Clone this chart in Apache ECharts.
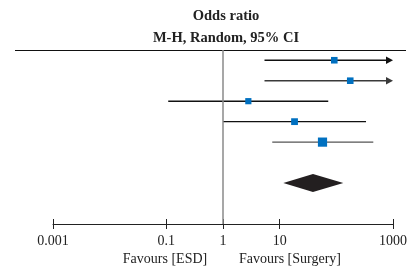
<!DOCTYPE html>
<html>
<head>
<meta charset="utf-8">
<script src="https://cdn.jsdelivr.net/npm/echarts@6/dist/echarts.min.js"></script>
<style>
html, body { margin: 0; padding: 0; background: #fff; }
#chart { width: 409px; height: 271px; }
</style>
</head>
<body>
<div id="chart"></div>
<script>
// study rows, top to bottom
const studyRows = [0, 1, 2, 3, 4];
const oddsRatio = [92, 176, 2.8, 18.3, 57];
const ciLower = [5.4, 5.4, 0.108, 1.0, 7.4];
const ciUpper = [1000, 1000, 72, 334, 449];
const ciBeyond = [1, 1, 0, 0, 0]; // CI runs past the axis -> arrow
const weights = [17, 17, 15, 18, 33];
// pooled estimate (diamond)
const pooledRow = 6;
const pooledLower = 11.6;
const pooledOR = 38.7;
const pooledUpper = 132.7;
// axis
const tickValues = [0.001, 0.1, 1, 10, 1000];
const tickLabels = ["0.001", "0.1", "1", "10", "1000"];

const serif = '"Liberation Serif", "DejaVu Serif", serif';
const lineColors = ["#111", "#3a3a3a", "#111", "#111", "#555"];

const mychart = echarts.init(document.getElementById("chart"));

function tickLabel(v) {
  for (let i = 0; i < tickValues.length; i++) {
    if (Math.abs(Math.log10(v) - Math.log10(tickValues[i])) < 1e-6) return tickLabels[i];
  }
  return "";
}

const option = {
  animation: false,
  grid: {
    left: 53,
    right: 16,
    top: 50,
    bottom: 47,
    outerBoundsMode: "none",
  },
  xAxis: [
    {
      type: "log",
      logBase: 10,
      min: 0.001,
      max: 1000,
      position: "bottom",
      axisLine: { onZero: false, lineStyle: { color: "#222", width: 1 } },
      axisTick: { customValues: tickValues, length: 5, lineStyle: { color: "#222" } },
      axisLabel: {
        customValues: tickValues,
        formatter: tickLabel,
        margin: 10,
        color: "#222",
        fontFamily: serif,
        fontSize: 14,
      },
      splitLine: { show: false },
    },
    {
      // ticks crossing the axis line (inner half)
      type: "log",
      logBase: 10,
      min: 0.001,
      max: 1000,
      position: "bottom",
      axisLine: { show: false, onZero: false },
      axisTick: { inside: true, customValues: tickValues, length: 5, lineStyle: { color: "#222" } },
      axisLabel: { show: false },
      splitLine: { show: false },
    },
  ],
  yAxis: {
    type: "value",
    min: -0.5,
    max: 8,
    inverse: true,
    show: false,
  },
  graphic: [
    {
      type: "line",
      shape: { x1: 15, y1: 50.5, x2: 406, y2: 50.5 },
      style: { stroke: "#111", lineWidth: 1.2 },
    },
    {
      type: "text",
      x: 226,
      y: 16,
      style: { text: "Odds ratio", align: "center", verticalAlign: "middle", font: "bold 14.5px " + serif, fill: "#222" },
    },
    {
      type: "text",
      x: 226,
      y: 38,
      style: { text: "M-H, Random, 95% CI", align: "center", verticalAlign: "middle", font: "bold 14.5px " + serif, fill: "#222" },
    },
    {
      type: "text",
      x: 165,
      y: 259,
      style: { text: "Favours [ESD]", align: "center", verticalAlign: "middle", font: "14px " + serif, fill: "#222" },
    },
    {
      type: "text",
      x: 290,
      y: 259,
      style: { text: "Favours [Surgery]", align: "center", verticalAlign: "middle", font: "14px " + serif, fill: "#222" },
    },
  ],
  series: [
    {
      // line of no effect
      type: "line",
      data: [],
      markLine: {
        silent: true,
        symbol: "none",
        label: { show: false },
        lineStyle: { color: "#8a8a8a", width: 1.5, type: "solid" },
        data: [{ xAxis: 1 }],
      },
    },
    {
      type: "custom",
      clip: false,
      encode: { x: [1, 2, 3], y: 0 },
      data: studyRows.map((r, i) => [r, ciLower[i], oddsRatio[i], ciUpper[i], ciBeyond[i], weights[i]]),
      renderItem: function (params, api) {
        const y = api.value(0);
        const lo = api.coord([api.value(1), y]);
        const mid = api.coord([api.value(2), y]);
        const hi = api.coord([api.value(3), y]);
        const arrow = api.value(4) === 1;
        const size = 1.6 * Math.sqrt(api.value(5));
        const color = lineColors[params.dataIndex];
        const children = [
          {
            type: "line",
            shape: { x1: lo[0], y1: lo[1], x2: arrow ? hi[0] - 5 : hi[0], y2: hi[1] },
            style: { stroke: color, lineWidth: 1.4 },
          },
        ];
        if (arrow) {
          children.push({
            type: "polygon",
            shape: { points: [[hi[0], hi[1]], [hi[0] - 7, hi[1] - 3.7], [hi[0] - 7, hi[1] + 3.7]] },
            style: { fill: color },
          });
        }
        children.push({
          type: "rect",
          shape: { x: mid[0] - size / 2, y: mid[1] - size / 2, width: size, height: size },
          style: { fill: "#0070c0" },
        });
        return { type: "group", children: children };
      },
    },
    {
      type: "custom",
      clip: false,
      encode: { x: [1, 2, 3], y: 0 },
      data: [[pooledRow, pooledLower, pooledOR, pooledUpper]],
      renderItem: function (params, api) {
        const y = api.value(0);
        const lo = api.coord([api.value(1), y]);
        const mid = api.coord([api.value(2), y]);
        const hi = api.coord([api.value(3), y]);
        return {
          type: "polygon",
          shape: { points: [[lo[0], lo[1]], [mid[0], mid[1] - 9], [hi[0], hi[1]], [mid[0], mid[1] + 9]] },
          style: { fill: "#231f20" },
        };
      },
    },
  ],
};
mychart.setOption(option);
</script>
</body>
</html>
